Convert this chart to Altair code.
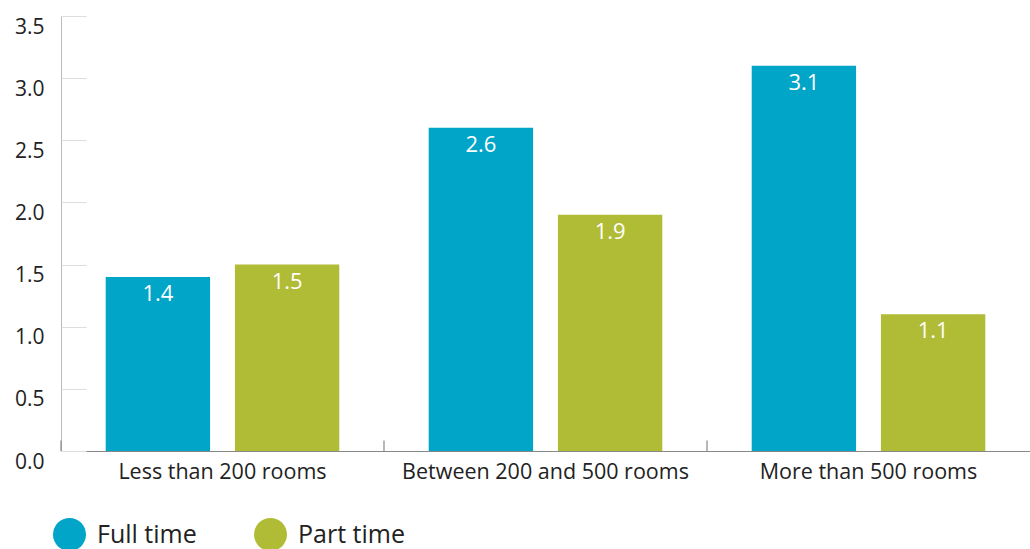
import altair as alt
import pandas as pd

categories = ["Less than 200 rooms", "Between 200 and 500 rooms", "More than 500 rooms"]
series = ["Full time", "Part time"]
full_time = [1.4, 2.6, 3.1]
part_time = [1.5, 1.9, 1.1]
y_ticks = [0.0, 0.5, 1.0, 1.5, 2.0, 2.5, 3.0, 3.5]
colors = ["#00A5C8", "#B1BC36"]

rows = []
for c, f, p in zip(categories, full_time, part_time):
    rows.append({"cat": c, "series": "Full time", "value": f})
    rows.append({"cat": c, "series": "Part time", "value": p})
df = pd.DataFrame(rows)
tick_df = pd.DataFrame({"cat": categories})

FONT = "Open Sans"
ydom = alt.Scale(domain=[0, 3.5], nice=False, zero=True)
xscale = alt.Scale(domain=categories, paddingInner=0, paddingOuter=0)
xoff = alt.XOffset("series:N", sort=series,
                   scale=alt.Scale(paddingInner=0.1923, paddingOuter=0.346))

base = alt.Chart(df)

bars = base.mark_bar().encode(
    x=alt.X("cat:N", sort=categories, scale=xscale, title=None,
            axis=alt.Axis(labelAngle=0, ticks=False, labelFontSize=21.5, labelFont=FONT,
                          labelColor="#222", labelPadding=10, labelLimit=0,
                          domainColor="#888", domainWidth=1.2)),
    xOffset=xoff,
    y=alt.Y("value:Q", scale=ydom, title=None,
            axis=alt.Axis(values=y_ticks, format=".1f", ticks=False, grid=False,
                          labelBaseline="top", labelPadding=17, labelFontSize=21,
                          labelFont=FONT, labelColor="#222", domainColor="#bbb")),
    color=alt.Color("series:N", sort=series,
                    scale=alt.Scale(domain=series, range=colors),
                    legend=alt.Legend(title=None, orient="none", legendX=-8, legendY=502,
                                      direction="horizontal", symbolType="circle",
                                      symbolSize=1089, symbolStrokeWidth=0,
                                      labelFontSize=25, labelFont=FONT, labelColor="#222",
                                      labelOffset=11, columnPadding=57, padding=0,
                                      labelLimit=0)),
)

labels = base.mark_text(color="white", fontSize=22, font=FONT, baseline="top", dy=7).encode(
    x=alt.X("cat:N", sort=categories, scale=xscale),
    xOffset=xoff,
    y=alt.Y("value:Q", scale=ydom,
            axis=alt.Axis(values=y_ticks, orient="left", offset=-25, tickSize=25,
                          tickColor="#ddd", labels=False, domain=False, grid=False,
                          title=None)),
    text=alt.Text("value:Q", format=".1f"),
)

xticks = alt.Chart(tick_df).mark_rule(color="#888", strokeWidth=1.2).encode(
    x=alt.X("cat:N", sort=categories, scale=xscale, bandPosition=0),
    y=alt.datum(0, scale=ydom, axis=None),
    y2=alt.datum(0.084),
)

chart = alt.layer(bars, labels, xticks).resolve_scale(y="independent").resolve_axis(
    y="independent").properties(
    width=969, height=435,
    autosize=alt.AutoSizeParams(type="none"),
    padding={"left": 61, "top": 16, "right": 0, "bottom": 98},
).configure_view(stroke=None)

chart.save("out.html", embed_options={"renderer": "svg", "actions": False})
